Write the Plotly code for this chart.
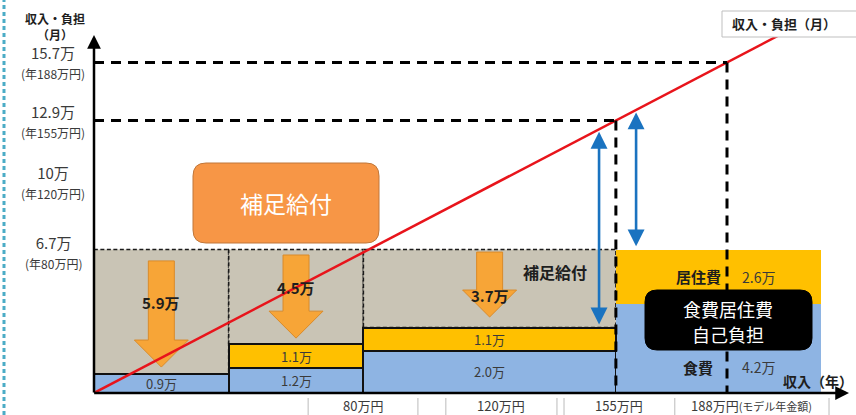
import plotly.graph_objects as go

# ---- data (万円) ----
seg_lo = [0, 40, 80, 155]          # annual income bands (万円/年)
seg_hi = [40, 80, 155, 216]
food = [0.9, 1.2, 2.0, 4.2]        # 食費 own burden per month
housing = [0.0, 1.1, 1.1, 2.6]     # 居住費 own burden per month
subsidy = [5.9, 4.5, 3.7]          # 補足給付 per month (first three bands)
monthly_ticks = [6.7, 10, 12.9, 15.7]
annual_ticks = [80, 120, 155, 188]
guide_income = [155, 188]          # annual incomes with guide lines
gap_income = [150, 161]            # positions of the double arrows
cell_edges = [63.6, 96.2, 104.5, 137.5, 139.6, 172.5, 218.3]
cells = [(63.6, 96.2), (104.5, 137.5), (139.6, 172.5), (172.5, 218.3)]
cell_text = ["80万円", "120万円", "155万円",
             "188万円<span style='font-size:11px'>(モデル年金額)</span>"]

# ---- layout geometry ----
W, H = 856, 415
ML, MB = 94, 22
PW, PH = W - ML, H - MB
XPX, YPX = 3.367, 21.1             # px per unit
XR = [0, PW / XPX]
YR = [0, PH / YPX]
FONT = "Noto Sans CJK JP"
BLUE, ORANGE, GRAY = "#8EB4E3", "#FFC000", "#C9C4B5"
ARROW_FILL, ARROW_LINE = "#F7A537", "#D98B2B"
TXT, TXT_B = "#3a3a3a", "#1e1e1e"


def px_x(p):
    return (p - ML) / XPX


def px_y(p):
    return (PH - p) / YPX


def paper_x(p):
    return (p - ML) / PW


def paper_y(p):
    return (PH - p) / PH


def rrect(x0, x1, y0, y1, r):
    rx, ry = r / XPX, r / YPX
    return (f"M {x0+rx},{y0} L {x1-rx},{y0} Q {x1},{y0} {x1},{y0+ry} "
            f"L {x1},{y1-ry} Q {x1},{y1} {x1-rx},{y1} L {x0+rx},{y1} "
            f"Q {x0},{y1} {x0},{y1-ry} L {x0},{y0+ry} Q {x0},{y0} {x0+rx},{y0} Z")


def label(**kw):
    d = dict(showarrow=False, xanchor="center", yanchor="middle", align="center")
    d.update(kw)
    return d


total = [f + h + s for f, h, s in zip(food, housing, subsidy)] + [food[3] + housing[3]]
centers = [(a + b) / 2 for a, b in zip(seg_lo, seg_hi)]
widths = [b - a for a, b in zip(seg_lo, seg_hi)]

fig = go.Figure()

# own burden bars
fig.add_bar(x=centers, y=food, width=widths, base=[0] * 4,
            marker=dict(color=BLUE, line=dict(color="#111", width=[2, 2, 2, 0])),
            hoverinfo="skip")
hidx = [i for i, v in enumerate(housing) if v > 0]
fig.add_bar(x=[centers[i] for i in hidx], y=[housing[i] for i in hidx],
            width=[widths[i] for i in hidx], base=[food[i] for i in hidx],
            marker=dict(color=ORANGE,
                        line=dict(color="#111", width=[0 if i == 3 else 2 for i in hidx])),
            hoverinfo="skip")

# income line (monthly = annual / 12)
xl = [0, 215]
fig.add_scatter(x=xl, y=[v / 12 for v in xl], mode="lines",
                line=dict(color="#E8141B", width=2.5), hoverinfo="skip")

shapes = []
ann = []

# subsidy boxes
for i in range(3):
    shapes.append(dict(type="rect", xref="x", yref="y", layer="below",
                       x0=seg_lo[i], x1=seg_hi[i], y0=food[i] + housing[i], y1=total[i],
                       fillcolor=GRAY, line=dict(color="#1a1a1a", width=1.6, dash="4px,2.5px")))

# downward arrows for the subsidy amounts
insets = [(0.54, 0.33), (0.26, 0.30), (0.12, 0.50)]
body_half, head_half, head_len = 13 / XPX, 27 / XPX, 27 / YPX
for i in range(3):
    cx = centers[i]
    top = total[i] - insets[i][0]
    tip = food[i] + housing[i] + insets[i][1]
    neck = tip + head_len
    path = (f"M {cx-body_half},{top} L {cx+body_half},{top} L {cx+body_half},{neck} "
            f"L {cx+head_half},{neck} L {cx},{tip} L {cx-head_half},{neck} "
            f"L {cx-body_half},{neck} Z")
    shapes.append(dict(type="path", xref="x", yref="y", layer="below", path=path,
                       fillcolor=ARROW_FILL, line=dict(color=ARROW_LINE, width=1)))

# guide lines at 155万 / 188万
for g in guide_income:
    m = g / 12
    shapes.append(dict(type="line", xref="x", yref="y", layer="above",
                       x0=0, x1=g, y0=m, y1=m,
                       line=dict(color="#000", width=3, dash="10px,7px")))
    shapes.append(dict(type="line", xref="x", yref="y", layer="above",
                       x0=g, x1=g, y0=m, y1=0,
                       line=dict(color="#000", width=3, dash="10px,7px")))

# rounded boxes
shapes.append(dict(type="path", xref="x", yref="y", layer="above",
                   path=rrect(px_x(193), px_x(379), px_y(243), px_y(163), 13),
                   fillcolor="#F79646", line=dict(color="#C0773A", width=1)))
shapes.append(dict(type="path", xref="x", yref="y", layer="above",
                   path=rrect(px_x(645), px_x(812), px_y(350), px_y(290), 12),
                   fillcolor="#000", line=dict(color="#000", width=1)))

# title box at top right
shapes.append(dict(type="rect", xref="paper", yref="paper", layer="above",
                   x0=paper_x(722), x1=paper_x(880), y0=paper_y(37), y1=paper_y(11),
                   fillcolor="#fff", line=dict(color="#BFBFBF", width=1)))

# decorative dotted rule at the left edge
shapes.append(dict(type="line", xref="paper", yref="paper", layer="above",
                   x0=paper_x(4), x1=paper_x(4), y0=paper_y(H), y1=1,
                   line=dict(color="#4BACC6", width=3, dash="4px,3px")))

# cell separators under the axis
for e in cell_edges:
    shapes.append(dict(type="line", xref="x", yref="paper", layer="above",
                       x0=e, x1=e, y0=paper_y(398), y1=paper_y(H),
                       line=dict(color="#BBBBBB", width=1)))

# axes with arrow heads
ann.append(dict(x=0, y=px_y(35), ax=0, ay=-0.05, xref="x", yref="y", axref="x", ayref="y",
                text="", showarrow=True, arrowhead=2, arrowsize=1.1, arrowwidth=2.5,
                arrowcolor="#000"))
ann.append(dict(x=px_x(849), y=0, ax=-0.4, ay=0, xref="x", yref="y", axref="x", ayref="y",
                text="", showarrow=True, arrowhead=2, arrowsize=1.1, arrowwidth=2.5,
                arrowcolor="#000"))

# double-headed gap arrows
bottoms = [food[2] + housing[2], total[3]]
for gx, b in zip(gap_income, bottoms):
    ann.append(dict(x=gx, y=gx / 12 - 0.12, ax=gx, ay=b + 0.08,
                    xref="x", yref="y", axref="x", ayref="y", text="", showarrow=True,
                    arrowhead=2, arrowside="end+start", arrowsize=1.3, arrowwidth=2.6,
                    arrowcolor="#1A73C0"))

# y tick labels
for m, a in zip(monthly_ticks, annual_ticks):
    ann.append(label(x=paper_x(53), xref="paper", y=m, yref="y",
                     text=f"{m:g}万<br><span style='font-size:12px'>(年{a}万円)</span>",
                     font=dict(size=15, color=TXT)))

ann.append(label(x=paper_x(55), xref="paper", y=paper_y(26), yref="paper",
                 text="<b>収入・負担</b><br><b>（月）</b>",
                 font=dict(size=12, color=TXT_B)))
ann.append(label(x=paper_x(784), xref="paper", y=paper_y(24), yref="paper",
                 text="<b>収入・負担（月）</b>", font=dict(size=13, color=TXT_B)))
ann.append(label(x=paper_x(855), xref="paper", y=px_y(381), yref="y", xanchor="right",
                 text="<b>収入（年）</b>", font=dict(size=14, color=TXT_B)))

# bottom cell labels
for (a, b), t in zip(cells, cell_text):
    ann.append(label(x=(a + b) / 2, xref="x", y=paper_y(405.5), yref="paper",
                     borderpad=0, text=t, font=dict(size=13, color=TXT)))

# bar value labels
for i in range(3):
    ann.append(label(x=centers[i], y=food[i] / 2, xref="x", yref="y",
                     text=f"{food[i]:.1f}万", font=dict(size=13, color=TXT)))
    if housing[i] > 0:
        ann.append(label(x=centers[i], y=food[i] + housing[i] / 2, xref="x", yref="y",
                         text=f"{housing[i]:.1f}万", font=dict(size=13, color=TXT)))

# subsidy amounts
sub_dy = [0.46, 0.47, -0.35]
for i in range(3):
    mid = (food[i] + housing[i] + total[i]) / 2
    ann.append(label(x=centers[i], y=mid + sub_dy[i], xref="x", yref="y",
                     text=f"<b>{subsidy[i]:.1f}万</b>", font=dict(size=15, color=TXT_B)))

ann.append(label(x=px_x(555), y=px_y(272), xref="x", yref="y",
                 text="<b>補足給付</b>", font=dict(size=16, color=TXT_B)))

# fourth band labels
lx, vx = px_x(698), px_x(758)
ann.append(label(x=lx, y=food[3] + housing[3] / 2, xref="x", yref="y",
                 text="<b>居住費</b>", font=dict(size=15, color=TXT_B)))
ann.append(label(x=vx, y=food[3] + housing[3] / 2, xref="x", yref="y",
                 text=f"{housing[3]:.1f}万", font=dict(size=14, color=TXT)))
ann.append(label(x=lx, y=px_y(367), xref="x", yref="y",
                 text="<b>食費</b>", font=dict(size=15, color=TXT_B)))
ann.append(label(x=vx, y=px_y(367), xref="x", yref="y",
                 text=f"{food[3]:.1f}万", font=dict(size=14, color=TXT)))

# text in rounded boxes
ann.append(label(x=px_x(286), y=px_y(203), xref="x", yref="y",
                 text="補足給付", font=dict(size=23, color="#fff")))
for line_text, py in [("食費居住費", 309), ("自己負担", 334)]:
    ann.append(label(x=px_x(728), y=px_y(py), xref="x", yref="y", borderpad=0,
                     text=line_text, font=dict(size=18, color="#fff")))

fig.update_layout(
    width=W, height=H, margin=dict(l=ML, r=0, t=0, b=MB),
    paper_bgcolor="#fff", plot_bgcolor="#fff", showlegend=False,
    barmode="overlay", bargap=0,
    font=dict(family=FONT),
    xaxis=dict(range=XR, visible=False, fixedrange=True),
    yaxis=dict(range=YR, visible=False, fixedrange=True),
    shapes=shapes, annotations=ann,
)

fig.write_html("out.html", config={"displayModeBar": False})
